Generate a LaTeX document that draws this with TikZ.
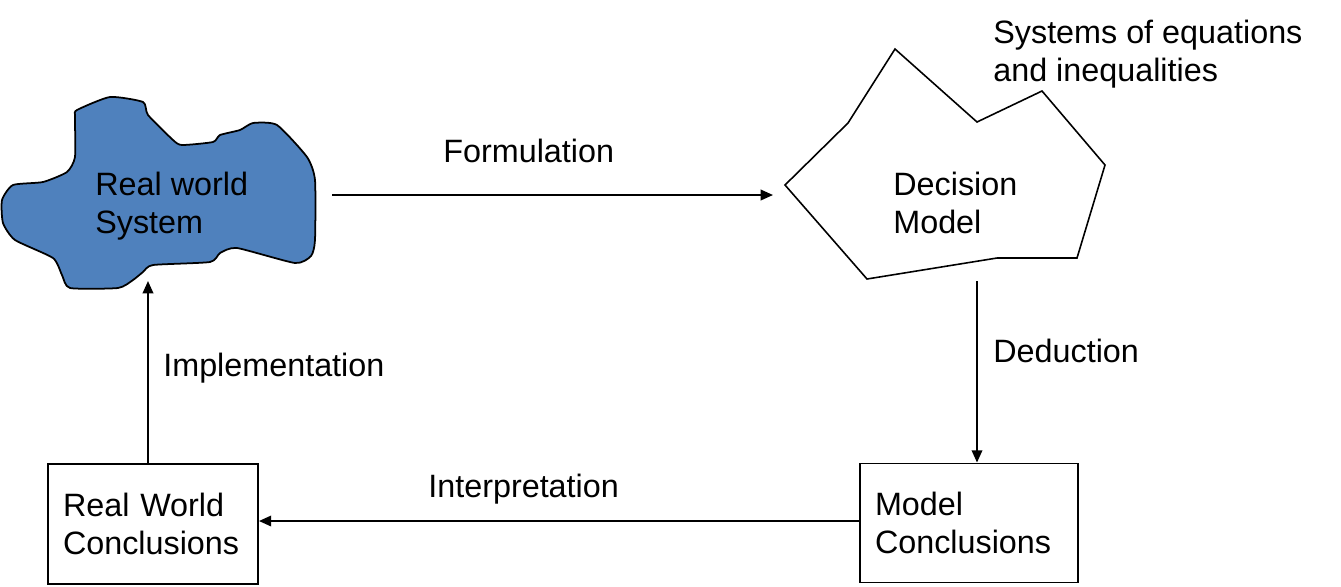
\documentclass[tikz,border=0pt]{standalone}
\usepackage{fontspec}
\setmainfont{Liberation Sans}
\usetikzlibrary{arrows.meta}
\definecolor{world-blue}{RGB}{79,129,189}
\begin{document}
\begin{tikzpicture}[x=0.02cm,y=-0.02cm,
    lbl/.style={anchor=base west,inner sep=0pt,align=left,font=\fontsize{18.4}{21.5}\selectfont},
    concbox/.style={draw,line width=1.1pt,inner xsep=0.3cm,inner ysep=0pt,align=left,font=\fontsize{18.4}{21.5}\selectfont},
    flow/.style={line width=1.1pt,-{Triangle[length=7pt,width=6pt]}}]
\useasboundingbox (0,0) rectangle (1341,586);
\filldraw[fill=world-blue, draw=black, line width=1pt] plot[smooth cycle, tension=0.35] coordinates {
  (77,110) (110,97) (143,102) (148,115) (173,140) (182,145) (213,142) (220,135)
  (240,130) (253,123) (277,125) (307,157) (315,180) (315,240) (311,256) (295,263)
  (237,248) (220,253) (210,262) (153,265) (143,272) (133,280) (118,288) (70,288)
  (62,275) (53,258) (15,240) (3,223) (2,200) (13,185) (43,182) (67,172) (75,157) (75,117)};
\draw[line width=0.9pt] (785,185) -- (848,123) -- (895,49) -- (977,122) -- (1042,91)
  -- (1105,165) -- (1077,258) -- (997,258) -- (867,279) -- cycle;
\node[lbl] (rws) at (95,233) {Real world\\System};
\node[lbl] (dm) at (893,233) {Decision\\Model};
\node[lbl] (eqs) at (993,81) {Systems of equations\\and inequalities};
\node[concbox, text width=3.6cm, minimum height=2.4cm] (rwc) at (153,524) {Real World\\Conclusions};
\node[concbox, text width=3.76cm, minimum height=2.38cm] (mc) at (969,523) {Model\\Conclusions};
\coordinate (rws-e) at (332,195);
\coordinate (dm-w) at (773,195);
\coordinate (dm-s) at (977,281);
\coordinate (rws-s) at (148,281);
\draw[flow] (rws-e) -- (dm-w);
\draw[flow] (dm-s) -- (dm-s |- mc.north);
\draw[flow] (mc.west |- 0,521) -- (rwc.east |- 0,521);
\draw[flow] (rws-s |- rwc.north) -- (rws-s);
\node[lbl] (form) at (443,162) {Formulation};
\node[lbl] (ded) at (993,362) {Deduction};
\node[lbl] (interp) at (428,497) {Interpretation};
\node[lbl] (impl) at (163,376) {Implementation};
\end{tikzpicture}
\end{document}
